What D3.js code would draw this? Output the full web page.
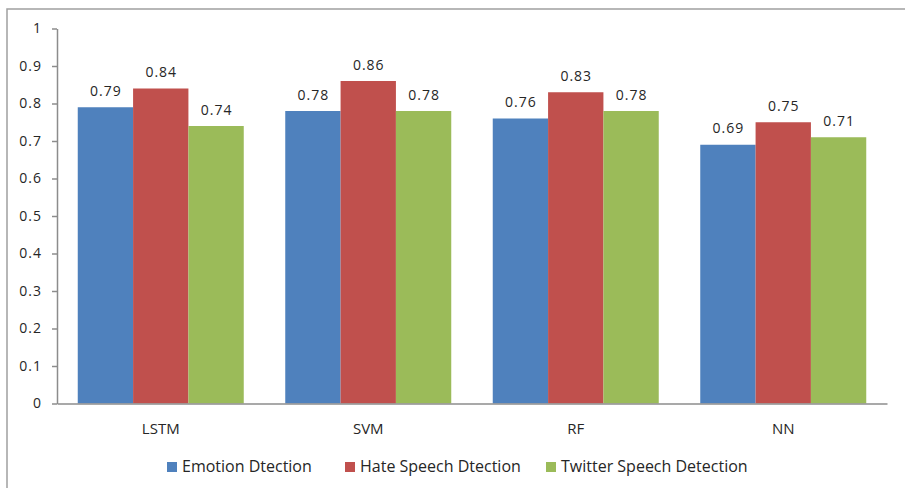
<!DOCTYPE html>
<html><head><meta charset="utf-8">
<script src="https://cdn.jsdelivr.net/npm/d3@7"></script>
<style>body{margin:0;background:#fff}svg{display:block}text{font-family:"Open Sans",sans-serif;fill:#262626}</style>
</head><body><svg id="c" width="905" height="488"></svg>
<script>
const categories = ["LSTM","SVM","RF","NN"];
const seriesNames = ["Emotion Dtection","Hate Speech Dtection","Twitter Speech Detection"];
const emotion = [0.79,0.78,0.76,0.69];
const hate = [0.84,0.86,0.83,0.75];
const twitter = [0.74,0.78,0.78,0.71];
const yTicks = [0,0.1,0.2,0.3,0.4,0.5,0.6,0.7,0.8,0.9,1];
const colors = ["#4F81BD","#C0504D","#9BBB59"];
const series = [emotion, hate, twitter];

(function(){
const svg = d3.select("#c");
svg.append("rect").attr("x",7).attr("y",9).attr("width",910).attr("height",500)
  .attr("fill","none").attr("stroke","#a0a0a0").attr("stroke-width",1.5);

const pl=57, pr=887, pt=28.5, pb=403.5;
const x = d3.scaleBand().domain(categories).range([pl,pr]).paddingInner(0).paddingOuter(0);
const y = d3.scaleLinear().domain([0,1]).range([pb,pt]);
const gap = x.bandwidth()*0.75/3.75;
const xs = d3.scaleBand().domain(d3.range(3)).range([gap/2, x.bandwidth()-gap/2]);

const yAxis = svg.append("g").attr("transform",`translate(${pl},0)`)
  .call(d3.axisLeft(y).tickValues(yTicks).tickFormat(d=>d3.format("~g")(d)).tickSize(5).tickSizeOuter(0));
yAxis.select(".domain").attr("stroke","#8c8c8c").attr("stroke-width",1.5);
yAxis.selectAll(".tick line").attr("stroke","#8c8c8c").attr("stroke-width",1.5);
yAxis.selectAll(".tick text").attr("x",-15).style("font-size","14px").style("letter-spacing","1px").attr("fill","#262626");

const g = svg.append("g");
categories.forEach((c,i)=>{
  series.forEach((s,j)=>{
    g.append("rect").attr("x",x(c)+xs(j)).attr("width",xs.bandwidth())
      .attr("y",y(s[i])).attr("height",y(0)-y(s[i])).attr("fill",colors[j]);
    g.append("text").attr("x",x(c)+xs(j)+xs.bandwidth()/2+0.5).attr("y",y(s[i])-11.5)
      .attr("text-anchor","middle").style("font-size","14px").style("letter-spacing","1px").text(d3.format(".2f")(s[i]));
  });
});

const xAxis = svg.append("g").attr("transform",`translate(0,${pb})`)
  .call(d3.axisBottom(x).tickSize(0).tickSizeOuter(0));
xAxis.select(".domain").attr("stroke","#8c8c8c").attr("stroke-width",1.5);
xAxis.selectAll(".tick text").attr("y",30.5).attr("dy",0).style("font-size","15px").attr("fill","#262626");

const legendX = [167, 345, 546];
const lg = svg.append("g");
seriesNames.forEach((n,j)=>{
  lg.append("rect").attr("x",legendX[j]).attr("y",462).attr("width",10).attr("height",10).attr("fill",colors[j]);
  lg.append("text").attr("x",legendX[j]+15).attr("y",472).style("font-size","16px").text(n);
});
})();
</script></body></html>
